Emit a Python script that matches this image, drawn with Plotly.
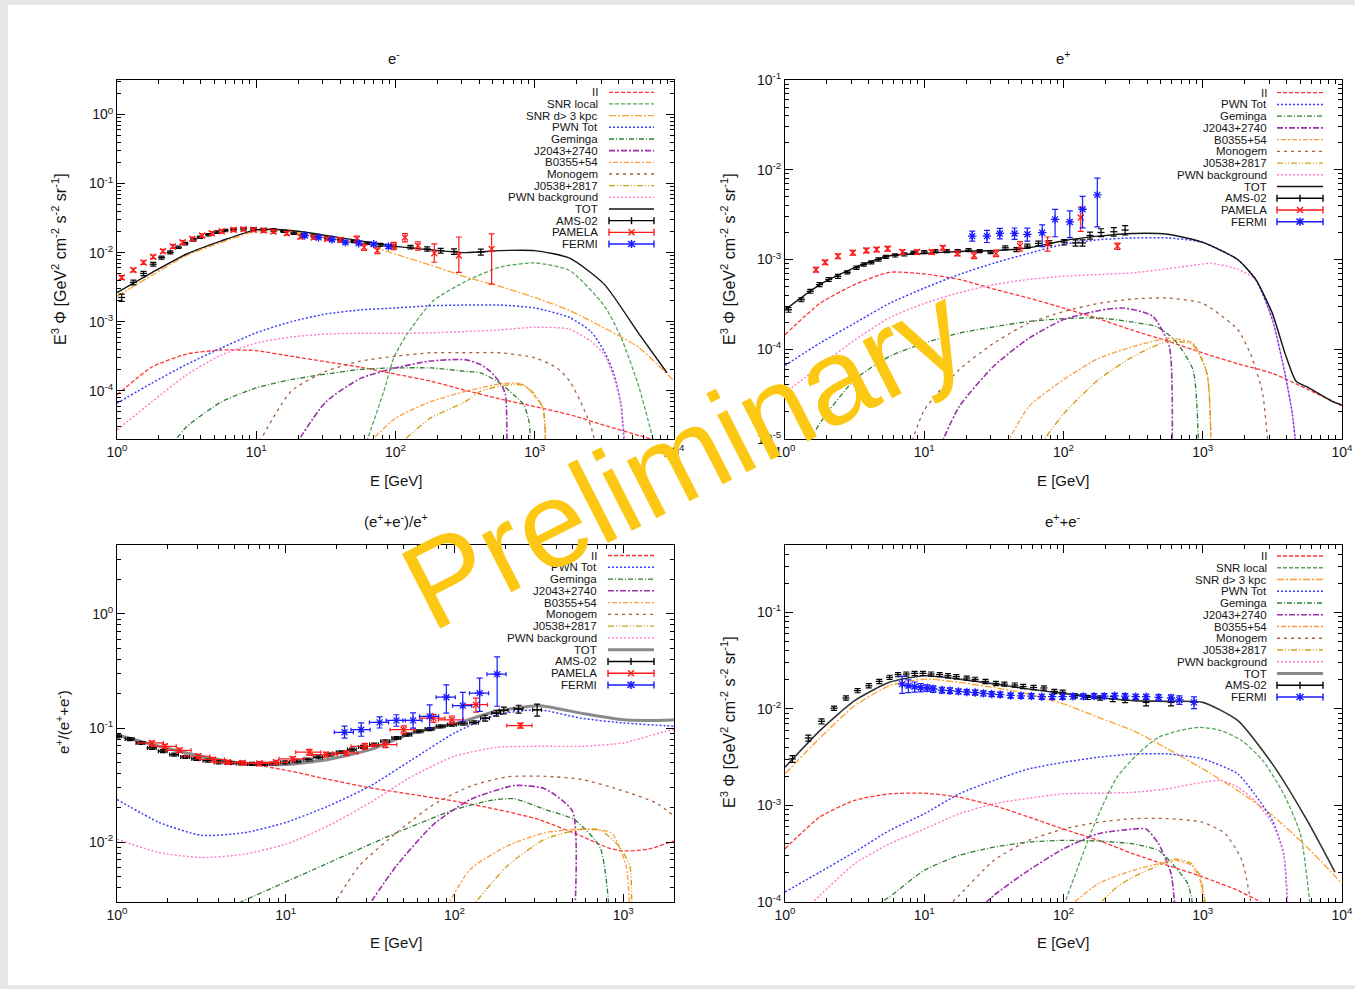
import plotly.graph_objects as go

W, H = 1355, 989
FONT = "Liberation Sans, Arial, sans-serif"

# ======================= DATA =======================
E_GRID = [1, 1.78, 3.16, 5.62, 10, 17.8, 31.6, 56.2, 100, 178, 316, 562, 1000, 1780, 3160, 5620, 10000]

# ---------- panel 1 : e- ----------
P1_II = [8.7e-5, 2.2e-4, 3.39e-4, 3.89e-4, 3.8e-4, 3.16e-4, 2.63e-4, 2.19e-4, 1.74e-4, 1.38e-4, 1.02e-4, 7.6e-5, 5.9e-5, 4.5e-5, 3.16e-5, 2.24e-5, 1.58e-5]
P1_SNRL_E = [60, 82.4, 97.3, 121, 186, 324, 569, 1000, 1780, 3160, 4170, 5620, 7400]
P1_SNRL = [1.5e-5, 9.8e-5, 3.0e-4, 6.6e-4, 2.0e-3, 3.9e-3, 6.2e-3, 7.1e-3, 5.5e-3, 1.7e-3, 5.9e-4, 1.1e-4, 1.4e-5]
P1_SNRD = [2.34e-3, 4.68e-3, 9.1e-3, 1.41e-2, 2.04e-2, 2.0e-2, 1.66e-2, 1.38e-2, 9.5e-3, 6.6e-3, 4.47e-3, 3.24e-3, 2.24e-3, 1.45e-3, 8.1e-4, 4.2e-4, 1.38e-4]
P1_TOT_E = [1, 1.78, 3.16, 5.62, 10, 17.8, 31.6, 56.2, 100, 178, 316, 562, 1000, 1780, 3160, 5620, 8900]
P1_TOT = [2.63e-3, 5.13e-3, 9.55e-3, 1.48e-2, 2.14e-2, 2.09e-2, 1.78e-2, 1.48e-2, 1.23e-2, 1.10e-2, 1.0e-2, 1.07e-2, 1.07e-2, 8.3e-3, 3.47e-3, 6.6e-4, 1.82e-4]
P1_PWN_E = [1, 1.78, 3.16, 5.62, 10, 17.8, 31.6, 56.2, 100, 178, 316, 562, 1000, 1780, 2530, 3160, 3720, 4160, 4400]
P1_PWN = [6.6e-5, 1.29e-4, 2.4e-4, 4.17e-4, 6.9e-4, 1.0e-3, 1.29e-3, 1.48e-3, 1.58e-3, 1.70e-3, 1.74e-3, 1.74e-3, 1.58e-3, 1.15e-3, 7.2e-4, 3.7e-4, 1.7e-4, 6.3e-5, 1.6e-5]
P1_PWNBG = [2.7e-5, 6.9e-5, 1.7e-4, 3.3e-4, 4.9e-4, 6.0e-4, 6.6e-4, 6.8e-4, 6.8e-4, 6.9e-4, 7.2e-4, 7.6e-4, 8.3e-4, 7.8e-4, 5.2e-4, 3.3e-4, 1.51e-4, 6.3e-5, 2.0e-5]
P1_GEM_E = [2.45, 3.16, 5.62, 10, 17.8, 31.6, 56.2, 100, 178, 316, 407, 562, 708, 832, 912, 933]
P1_GEM = [1.6e-5, 3.0e-5, 6.9e-5, 1.1e-4, 1.45e-4, 1.74e-4, 2.04e-4, 2.14e-4, 2.14e-4, 1.91e-4, 1.82e-4, 1.29e-4, 8.7e-5, 6.3e-5, 3.5e-5, 1.5e-5]
P1_J2043_E = [18.6, 31.6, 56.2, 100, 178, 316, 407, 479, 575, 617, 631]
P1_J2043 = [1.5e-5, 6.9e-5, 1.51e-4, 2.14e-4, 2.69e-4, 2.82e-4, 2.4e-4, 1.91e-4, 1.23e-4, 8.7e-5, 1.6e-5]
P1_MONO_E = [10, 17.8, 31.6, 56.2, 100, 178, 316, 562, 1000, 1445, 1780, 2138, 2512, 2754]
P1_MONO = [1.5e-5, 9.8e-5, 1.91e-4, 2.69e-4, 3.16e-4, 3.55e-4, 3.55e-4, 3.55e-4, 3.0e-4, 2.14e-4, 1.38e-4, 6.9e-5, 3.16e-5, 1.6e-5]
P1_B0355_E = [60, 100, 178, 316, 407, 562, 708, 832, 1000, 1148, 1189]
P1_B0355 = [1.5e-5, 4.0e-5, 6.9e-5, 9.8e-5, 1.10e-4, 1.26e-4, 1.29e-4, 1.23e-4, 8.3e-5, 5.6e-5, 1.6e-5]
P1_J0538_E = [100, 178, 316, 407, 562, 708, 832, 1000, 1148, 1202]
P1_J0538 = [1.5e-5, 4.0e-5, 6.9e-5, 9.8e-5, 1.17e-4, 1.23e-4, 1.20e-4, 8.9e-5, 5.4e-5, 1.6e-5]

P1_AMS_E = [1.08, 1.31, 1.55, 1.82, 2.09, 2.41, 2.76, 3.08, 3.54, 3.95, 4.54, 5.21, 5.98, 6.87, 8.11, 9.57, 11.3, 13.3, 15.7, 18.6, 21.9, 25.9, 32.3, 40.2, 50.1, 62.5, 78, 97, 128, 169, 211, 263, 410]
P1_AMS = [2.24e-3, 3.7e-3, 5.0e-3, 6.8e-3, 8.5e-3, 1.01e-2, 1.2e-2, 1.35e-2, 1.53e-2, 1.67e-2, 1.82e-2, 1.98e-2, 2.09e-2, 2.16e-2, 2.21e-2, 2.21e-2, 2.16e-2, 2.14e-2, 2.04e-2, 1.91e-2, 1.82e-2, 1.74e-2, 1.63e-2, 1.53e-2, 1.45e-2, 1.37e-2, 1.30e-2, 1.23e-2, 1.20e-2, 1.13e-2, 1.07e-2, 1.04e-2, 1.02e-2]
P1_AMS_ERR = [12, 8, 7, 6, 5, 5, 4, 4, 4, 4, 4, 4, 4, 4, 4, 4, 4, 4, 4, 4, 4, 4, 4, 4, 4, 4, 5, 5, 6, 7, 8, 9, 10]
P1_PAM_E = [1.08, 1.31, 1.55, 1.82, 2.14, 2.52, 2.96, 3.48, 4.09, 4.8, 5.65, 6.87, 8.11, 9.57, 11.3, 13.3, 16.6, 20.8, 25.9, 32.3, 40.2, 52.7, 59.5, 74, 97, 117, 145, 190, 285, 490]
P1_PAM = [4.37e-3, 5.6e-3, 7.2e-3, 8.7e-3, 1.05e-2, 1.23e-2, 1.41e-2, 1.58e-2, 1.77e-2, 1.91e-2, 2.04e-2, 2.14e-2, 2.19e-2, 2.14e-2, 2.09e-2, 2.02e-2, 1.91e-2, 1.70e-2, 1.66e-2, 1.58e-2, 1.53e-2, 1.58e-2, 1.2e-2, 1.07e-2, 1.26e-2, 1.66e-2, 1.26e-2, 9.8e-3, 9.1e-3, 1.13e-2]
P1_PAM_UP = [6, 6, 6, 6, 6, 6, 6, 6, 6, 6, 6, 6, 6, 6, 6, 6, 6, 6, 6, 6, 8, 10, 10, 10, 12, 14, 14, 37, 85, 65]
P1_PAM_DN = [6, 6, 6, 6, 6, 6, 6, 6, 6, 6, 6, 6, 6, 6, 6, 6, 6, 6, 6, 6, 8, 10, 10, 10, 12, 14, 14, 26, 43, 69]
P1_FER_E = [22.3, 28, 35, 43.7, 54.4, 69.7, 89]
P1_FER = [1.77e-2, 1.66e-2, 1.55e-2, 1.41e-2, 1.37e-2, 1.33e-2, 1.23e-2]
P1_FER_ERR = [5, 5, 5, 5, 5, 5, 6]

# ---------- panel 2 : e+ ----------
P2_II = [1.45e-4, 3.24e-4, 5.25e-4, 7.2e-4, 6.9e-4, 6.0e-4, 4.68e-4, 3.72e-4, 2.88e-4, 2.19e-4, 1.62e-4, 1.23e-4, 9.1e-5, 6.9e-5, 5.4e-5, 3.6e-5, 2.34e-5]
P2_TOT_E = [1, 1.78, 3.16, 5.62, 10, 17.8, 31.6, 56.2, 100, 178, 316, 562, 1000, 1780, 2400, 3162, 3890, 4680, 5620, 8510, 10000]
P2_TOT = [2.75e-4, 5.25e-4, 8.1e-4, 1.10e-3, 1.17e-3, 1.23e-3, 1.26e-3, 1.35e-3, 1.62e-3, 1.82e-3, 1.95e-3, 1.91e-3, 1.55e-3, 1.0e-3, 6.0e-4, 2.51e-4, 9.1e-5, 4.4e-5, 3.8e-5, 2.63e-5, 2.4e-5]
P2_PWN_E = [1, 1.78, 3.16, 5.62, 10, 17.8, 31.6, 56.2, 100, 178, 316, 562, 1000, 1780, 2400, 3162, 3890, 4400, 4680]
P2_PWN = [6.6e-5, 1.17e-4, 1.95e-4, 3.24e-4, 4.8e-4, 6.8e-4, 9.1e-4, 1.17e-3, 1.48e-3, 1.66e-3, 1.74e-3, 1.74e-3, 1.55e-3, 1.0e-3, 6.0e-4, 2.14e-4, 5.4e-5, 1.9e-5, 8e-6]
P2_PWNBG_E = [1, 1.78, 3.16, 5.62, 10, 17.8, 31.6, 56.2, 100, 178, 316, 562, 1000, 1148, 1780, 2400, 3162, 3890, 4400, 4680]
P2_PWNBG = [3.24e-5, 6.5e-5, 1.26e-4, 2.24e-4, 3.24e-4, 4.27e-4, 5.25e-4, 6.0e-4, 6.5e-4, 6.8e-4, 7.1e-4, 7.9e-4, 8.9e-4, 9.1e-4, 7.8e-4, 6.0e-4, 2.14e-4, 5.4e-5, 1.9e-5, 8e-6]
P2_GEM_E = [1.43, 1.78, 3.16, 5.62, 10, 17.8, 31.6, 56.2, 100, 178, 316, 468, 631, 851, 933]
P2_GEM = [8e-6, 1.5e-5, 4.57e-5, 8.3e-5, 1.17e-4, 1.51e-4, 1.78e-4, 2.04e-4, 2.19e-4, 2.24e-4, 2.0e-4, 1.78e-4, 1.26e-4, 5.9e-5, 8e-6]
P2_MONO_E = [7.9, 10, 17.8, 31.6, 56.2, 100, 178, 316, 562, 1000, 1780, 2240, 2690, 2950]
P2_MONO = [8e-6, 2.1e-5, 5.9e-5, 1.17e-4, 1.95e-4, 2.63e-4, 3.24e-4, 3.63e-4, 3.72e-4, 3.24e-4, 1.66e-4, 8.3e-5, 3.24e-5, 8e-6]
P2_J2043_E = [12.9, 17.8, 31.6, 56.2, 100, 178, 269, 437, 575, 603]
P2_J2043 = [8e-6, 2.29e-5, 6.5e-5, 1.32e-4, 2.14e-4, 2.69e-4, 2.88e-4, 2.34e-4, 1.07e-4, 8e-6]
P2_B0355_E = [38, 56.2, 100, 178, 316, 562, 851, 1072, 1148]
P2_B0355 = [8e-6, 2.29e-5, 4.57e-5, 7.9e-5, 1.07e-4, 1.32e-4, 1.17e-4, 5.4e-5, 8e-6]
P2_J0538_E = [66, 100, 178, 316, 562, 851, 1072, 1148]
P2_J0538 = [8e-6, 1.9e-5, 4.57e-5, 8.3e-5, 1.23e-4, 1.12e-4, 5.4e-5, 8e-6]

P2_AMS_E = [1.06, 1.31, 1.52, 1.77, 2.06, 2.40, 2.80, 3.26, 3.68, 4.16, 4.69, 5.3, 6.17, 7.19, 8.37, 10.0, 12.0, 14.5, 17.4, 20.8, 25, 30, 38.2, 45.9, 55, 66, 79, 101, 122, 137, 155, 186, 230, 277]
P2_AMS = [2.75e-4, 3.56e-4, 4.43e-4, 5.25e-4, 6.0e-4, 6.5e-4, 7.2e-4, 8.1e-4, 8.8e-4, 9.3e-4, 1.0e-3, 1.07e-3, 1.11e-3, 1.14e-3, 1.19e-3, 1.21e-3, 1.24e-3, 1.24e-3, 1.24e-3, 1.27e-3, 1.24e-3, 1.21e-3, 1.35e-3, 1.29e-3, 1.41e-3, 1.51e-3, 1.53e-3, 1.56e-3, 1.53e-3, 1.53e-3, 1.85e-3, 2.0e-3, 2.04e-3, 2.13e-3]
P2_AMS_ERR = [6, 5, 5, 5, 5, 5, 4, 4, 4, 4, 4, 4, 4, 4, 4, 4, 4, 4, 4, 4, 4, 4, 5, 5, 5, 6, 6, 7, 8, 8, 9, 10, 11, 12]
P2_PAM_E = [1.67, 1.94, 2.40, 3.07, 3.84, 4.55, 5.46, 6.97, 8.89, 11.3, 13.6, 17.3, 22.8, 32.8, 48.7, 76.9, 133, 244]
P2_PAM = [7.7e-4, 9.3e-4, 1.09e-3, 1.19e-3, 1.26e-3, 1.29e-3, 1.32e-3, 1.21e-3, 1.21e-3, 1.21e-3, 1.35e-3, 1.17e-3, 1.11e-3, 1.17e-3, 1.41e-3, 1.51e-3, 2.94e-3, 1.41e-3]
P2_PAM_ERR = [6, 6, 6, 6, 6, 6, 6, 6, 6, 6, 6, 6, 8, 8, 12, 18, 30, 8]
P2_FER_E = [22.1, 28.2, 34.9, 44.5, 55, 70.3, 87, 111, 137, 175]
P2_FER = [1.82e-3, 1.82e-3, 1.95e-3, 1.95e-3, 1.91e-3, 1.99e-3, 2.8e-3, 2.62e-3, 3.63e-3, 5.25e-3]
P2_FER_UP = [14, 16, 14, 15, 17, 22, 29, 33, 39, 54]
P2_FER_DN = [12, 15, 13, 14, 16, 30, 36, 33, 38, 56]

# ---------- panel 3 : positron fraction ----------
P3_GRID = [1, 1.78, 3.16, 5.62, 10, 17.8, 31.6, 56.2, 100, 178, 316, 562, 1000, 1778, 2000]
P3_II_E = [1, 1.78, 3.16, 5.62, 10, 17.8, 31.6, 56.2, 100, 178, 316, 562, 807, 1000, 1406, 2000]
P3_II = [0.0845, 0.0692, 0.0566, 0.0495, 0.0428, 0.0355, 0.030, 0.0262, 0.0229, 0.0194, 0.0158, 0.01135, 0.00898, 0.0084, 0.0087, 0.0103]
P3_TOT = [0.0875, 0.0692, 0.0566, 0.0489, 0.0479, 0.053, 0.0647, 0.0904, 0.109, 0.14, 0.1567, 0.135, 0.118, 0.1167, 0.118]
P3_PWN = [0.0237, 0.0149, 0.0115, 0.0121, 0.0149, 0.0207, 0.031, 0.053, 0.0904, 0.1306, 0.1445, 0.122, 0.1107, 0.1047, 0.1035]
P3_PWNBG = [0.0106, 0.00813, 0.00735, 0.00785, 0.0096, 0.01387, 0.0222, 0.0378, 0.0566, 0.0678, 0.0692, 0.0692, 0.074, 0.0935, 0.0966]
P3_GEM_E = [4.1, 16.4, 45.3, 101.6, 168, 228, 342, 513, 730, 828]
P3_GEM = [0.0025, 0.00622, 0.0121, 0.0194, 0.0234, 0.024, 0.0194, 0.0158, 0.00898, 0.0025]
P3_J2043_E = [29.4, 45.3, 75.2, 124.5, 228, 342, 500, 518]
P3_J2043 = [0.0025, 0.00622, 0.01435, 0.0237, 0.0314, 0.0294, 0.01875, 0.0025]
P3_MONO_E = [18.2, 27.3, 45.3, 75.2, 124.5, 206, 342, 566, 940, 1556, 2000]
P3_MONO = [0.0025, 0.00622, 0.0121, 0.0214, 0.031, 0.0374, 0.0378, 0.0355, 0.029, 0.0222, 0.017]
P3_B0355_E = [87, 124.5, 206, 342, 566, 849, 1040, 1094]
P3_B0355 = [0.0025, 0.00582, 0.00929, 0.0121, 0.013, 0.0121, 0.00622, 0.0025]
P3_J0538_E = [121, 206, 342, 566, 730, 940, 1094, 1122]
P3_J0538 = [0.0025, 0.00622, 0.0106, 0.013, 0.0128, 0.00929, 0.00622, 0.0025]

P3_AMS_E = [1.0, 1.19, 1.38, 1.61, 1.87, 2.18, 2.54, 2.95, 3.44, 4.0, 4.65, 5.41, 6.3, 7.33, 8.53, 9.93, 11.6, 13.5, 15.6, 18.2, 21.2, 24.7, 28.7, 33.4, 38.9, 45.3, 52.6, 61.3, 71.3, 83, 96.6, 112, 131, 152, 177, 196, 240, 309]
P3_AMS = [0.0846, 0.080, 0.074, 0.067, 0.0627, 0.0585, 0.0558, 0.0537, 0.0519, 0.0501, 0.0495, 0.0489, 0.0485, 0.0485, 0.0489, 0.0501, 0.0512, 0.053, 0.0555, 0.0585, 0.0614, 0.0647, 0.0683, 0.0716, 0.0766, 0.0818, 0.0875, 0.0935, 0.098, 0.1035, 0.107, 0.109, 0.112, 0.122, 0.135, 0.1426, 0.1465, 0.1445]
P3_AMS_ERR = [3, 3, 3, 3, 3, 3, 3, 3, 3, 3, 3, 3, 3, 3, 3, 3, 3, 3, 3, 3, 3, 3, 3, 3, 3, 3, 3, 3, 3, 3, 3, 3, 3, 6, 6, 7, 8, 12]
P3_PAM_E = [1.61, 1.92, 2.35, 3.03, 3.71, 4.54, 5.55, 6.97, 8.75, 11.0, 13.8, 17.3, 22.9, 29.4, 38.9, 50, 75, 96.6, 134, 246]
P3_PAM = [0.074, 0.0692, 0.0638, 0.0566, 0.053, 0.0501, 0.0495, 0.0489, 0.0501, 0.0537, 0.0614, 0.0585, 0.0605, 0.0692, 0.0716, 0.0967, 0.122, 0.118, 0.16, 0.105]
P3_PAM_ERR = [4, 4, 4, 4, 4, 4, 4, 4, 4, 4, 6, 5, 5, 6, 6, 8, 8, 8, 14, 5]
P3_FER_E = [22.3, 28, 36, 45.3, 56.8, 71.3, 89.5, 112, 141, 179]
P3_FER = [0.0917, 0.0967, 0.112, 0.1166, 0.1166, 0.1265, 0.186, 0.157, 0.2018, 0.296]
P3_FER_UP = [0.012, 0.014, 0.013, 0.014, 0.019, 0.033, 0.053, 0.048, 0.071, 0.124]
P3_FER_DN = [0.010, 0.012, 0.012, 0.013, 0.017, 0.027, 0.051, 0.043, 0.062, 0.141]

# ---------- panel 4 : e+ + e- ----------
P4_TOT_E = [1, 1.78, 3.16, 5.62, 10, 17.8, 31.6, 56.2, 100, 178, 316, 562, 1000, 1780, 3160, 5620, 8900]
P4_TOT = [2.49e-3, 5.97e-3, 1.22e-2, 1.89e-2, 2.21e-2, 2.04e-2, 1.82e-2, 1.61e-2, 1.45e-2, 1.32e-2, 1.22e-2, 1.20e-2, 1.17e-2, 7.6e-3, 2.7e-3, 7.0e-4, 2.04e-4]
P4_SNRD = [2.13e-3, 5.0e-3, 1.08e-2, 1.74e-2, 2.04e-2, 1.89e-2, 1.67e-2, 1.43e-2, 1.13e-2, 8.2e-3, 5.97e-3, 3.85e-3, 2.4e-3, 1.43e-3, 7.9e-4, 3.7e-4, 1.55e-4]
P4_SNRL_E = [97, 171, 242, 341, 482, 679, 959, 1355, 1910, 2700, 3810, 5020, 5960]
P4_SNRL = [8e-5, 7.0e-4, 1.96e-3, 3.42e-3, 5.1e-3, 5.97e-3, 6.46e-3, 5.97e-3, 4.7e-3, 2.92e-3, 1.32e-3, 5.1e-4, 8e-5]
P4_PWN_E = [1, 1.78, 3.16, 5.62, 10, 17.8, 31.6, 56.2, 100, 178, 316, 562, 1000, 1780, 2350, 3162, 3810, 4080]
P4_PWN = [1.27e-4, 2.04e-4, 3.29e-4, 5.5e-4, 8.2e-4, 1.32e-3, 1.82e-3, 2.39e-3, 2.8e-3, 3.16e-3, 3.42e-3, 3.42e-3, 3.04e-3, 2.13e-3, 1.32e-3, 7.0e-4, 3.16e-4, 8e-5]
P4_PWNBG_E = [1.33, 1.78, 3.16, 5.62, 10, 17.8, 31.6, 56.2, 100, 178, 316, 562, 1000, 1356, 1780, 2350, 3162, 3810, 4080]
P4_PWNBG = [8e-5, 1.17e-4, 2.49e-4, 4.0e-4, 5.7e-4, 8.2e-4, 1.04e-3, 1.19e-3, 1.32e-3, 1.34e-3, 1.37e-3, 1.49e-3, 1.74e-3, 1.82e-3, 1.55e-3, 1.13e-3, 6.5e-4, 3.16e-4, 8e-5]
P4_II_E = [1, 1.78, 3.16, 5.62, 10, 17.8, 31.6, 56.2, 100, 178, 316, 562, 1000, 1780, 2606, 3162]
P4_II = [3.56e-4, 7.6e-4, 1.13e-3, 1.32e-3, 1.34e-3, 1.22e-3, 1.0e-3, 7.6e-4, 5.7e-4, 4.35e-4, 3.16e-4, 2.39e-4, 1.82e-4, 1.32e-4, 1.0e-4, 8.3e-5]
P4_GEM_E = [3.9, 5.62, 10, 17.8, 31.6, 56.2, 100, 178, 316, 482, 634, 780, 865]
P4_GEM = [8e-5, 1.13e-4, 2.13e-4, 3.04e-4, 3.7e-4, 4.18e-4, 4.35e-4, 4.28e-4, 4.0e-4, 3.42e-4, 2.3e-4, 1.55e-4, 8e-5]
P4_J2043_E = [24, 31.6, 56.2, 100, 178, 316, 392, 482, 592, 634]
P4_J2043 = [8e-5, 1.17e-4, 2.13e-4, 3.56e-4, 5.1e-4, 5.7e-4, 5.7e-4, 4.0e-4, 1.96e-4, 8e-5]
P4_MONO_E = [13.6, 17.8, 31.6, 56.2, 100, 178, 316, 562, 1000, 1452, 1910, 2270]
P4_MONO = [8e-5, 1.17e-4, 2.7e-4, 4.35e-4, 5.7e-4, 6.7e-4, 7.3e-4, 7.3e-4, 6.7e-4, 5.1e-4, 2.7e-4, 8e-5]
P4_B0355_E = [100, 178, 316, 482, 634, 836, 959, 1028]
P4_B0355 = [8e-5, 1.55e-4, 2.13e-4, 2.49e-4, 2.7e-4, 2.39e-4, 1.67e-4, 8e-5]
P4_J0538_E = [160, 242, 316, 482, 634, 836, 959, 1064]
P4_J0538 = [8e-5, 1.43e-4, 1.82e-4, 2.39e-4, 2.8e-4, 2.49e-4, 1.82e-4, 8e-5]

P4_AMS_E = [1.13, 1.47, 1.83, 2.25, 2.74, 3.32, 4.0, 4.75, 5.64, 6.48, 7.43, 8.53, 9.79, 11.2, 12.9, 14.8, 17.0, 20.2, 23.2, 27.5, 32.7, 37.6, 44.7, 51.3, 60.9, 72.3, 85.9, 98.6, 121, 149, 183, 226, 277, 392, 592]
P4_AMS = [3.04e-3, 5.0e-3, 7.45e-3, 1.02e-2, 1.30e-2, 1.55e-2, 1.74e-2, 1.93e-2, 2.13e-2, 2.27e-2, 2.30e-2, 2.34e-2, 2.34e-2, 2.30e-2, 2.27e-2, 2.21e-2, 2.16e-2, 2.09e-2, 2.03e-2, 1.93e-2, 1.84e-2, 1.81e-2, 1.77e-2, 1.71e-2, 1.67e-2, 1.65e-2, 1.52e-2, 1.49e-2, 1.37e-2, 1.32e-2, 1.30e-2, 1.27e-2, 1.24e-2, 1.17e-2, 1.17e-2]
P4_AMS_ERR = [8, 7, 6, 5, 5, 5, 5, 5, 5, 5, 5, 5, 5, 5, 5, 5, 5, 5, 5, 5, 5, 5, 5, 5, 5, 5, 5, 5, 5, 5, 5, 6, 6, 8, 8]
P4_FER_E = [6.94, 7.69, 8.53, 9.46, 10.5, 11.6, 13.4, 15.3, 17.6, 20.2, 23.2, 26.6, 30.5, 35.1, 41.7, 49.5, 58.8, 69.8, 83, 98.6, 117, 139, 166, 196, 233, 277, 330, 392, 482, 592, 680, 865]
P4_FER = [1.81e-2, 1.74e-2, 1.70e-2, 1.67e-2, 1.65e-2, 1.61e-2, 1.57e-2, 1.55e-2, 1.52e-2, 1.50e-2, 1.48e-2, 1.45e-2, 1.43e-2, 1.41e-2, 1.38e-2, 1.37e-2, 1.36e-2, 1.34e-2, 1.34e-2, 1.34e-2, 1.35e-2, 1.35e-2, 1.36e-2, 1.36e-2, 1.37e-2, 1.36e-2, 1.34e-2, 1.34e-2, 1.32e-2, 1.30e-2, 1.24e-2, 1.17e-2]
P4_FER_ERR = [20, 15, 12, 10, 8, 8, 7, 7, 6, 6, 6, 6, 6, 6, 6, 6, 6, 6, 6, 6, 6, 6, 6, 6, 6, 6, 6, 6, 7, 8, 10, 14]

# Tick labels
DEC_TEXT = {1e-5: "10<sup>-5</sup>", 1e-4: "10<sup>-4</sup>", 1e-3: "10<sup>-3</sup>", 1e-2: "10<sup>-2</sup>",
            1e-1: "10<sup>-1</sup>", 1: "10<sup>0</sup>", 10: "10<sup>1</sup>", 100: "10<sup>2</sup>",
            1000: "10<sup>3</sup>", 10000: "10<sup>4</sup>"}

# ======================= STYLE =======================
STY = {
    "II": ("#ff3434", "4px,2px", 1.3),
    "SNR local": ("#58a458", "4px,2px", 1.3),
    "SNR d> 3 kpc": ("#ffa030", "7px,2px,2px,2px", 1.3),
    "PWN Tot": ("#3d3dff", "2px,2px", 1.5),
    "Geminga": ("#2e7d32", "5px,2px,1px,2px", 1.3),
    "J2043+2740": ("#9b30aa", "6px,2px,2px,2px", 1.6),
    "B0355+54": ("#ff9a40", "2px,2px,5px,2px", 1.3),
    "Monogem": ("#a8603c", "3px,4px", 1.3),
    "J0538+2817": ("#d4a017", "6px,2px,1px,2px,1px,2px", 1.4),
    "PWN background": ("#ff78c8", "2px,2px", 1.4),
    "TOT": ("#151515", "solid", 1.4),
}
DATA_COL = {"AMS-02": "#000000", "PAMELA": "#ff1a1a", "FERMI": "#1a1aff"}

PANELS = {
    1: dict(x=(117, 674), y=(80, 439), xr=[0, 4], yr=[-4.699, 0.5], ydec=[1e-4, 1e-3, 1e-2, 1e-1, 1]),
    2: dict(x=(785, 1342), y=(80, 439), xr=[0, 4], yr=[-5, -1], ydec=[1e-5, 1e-4, 1e-3, 1e-2, 1e-1]),
    3: dict(x=(117, 674), y=(545, 902), xr=[0, 3.301], yr=[-2.523, 0.602], ydec=[1e-2, 1e-1, 1]),
    4: dict(x=(785, 1342), y=(545, 902), xr=[0, 4], yr=[-4, -0.301], ydec=[1e-4, 1e-3, 1e-2, 1e-1]),
}

fig = go.Figure()
shapes, annos = [], []


def PX(x):
    return x / W


def PY(y):
    return 1 - y / H


def ax_ids(p):
    return ("x" if p == 1 else f"x{p}"), ("y" if p == 1 else f"y{p}")


def curve(p, name, E, V, color=None, width=None, dash=None):
    c, d, w = STY[name]
    xa, ya = ax_ids(p)
    fig.add_trace(go.Scatter(x=E, y=V, mode="lines", xaxis=xa, yaxis=ya, showlegend=False, hoverinfo="skip",
                             line=dict(color=color or c, dash=dash or d, width=width or w,
                                       shape="spline", smoothing=0.6)))


def data(p, name, E, V, up, dn, xerr=None):
    col = DATA_COL[name]
    xa, ya = ax_ids(p)
    sym = {"AMS-02": "line-ew-open", "PAMELA": "x-thin-open", "FERMI": "asterisk-open"}[name]
    size = {"AMS-02": 5, "PAMELA": 6, "FERMI": 7}[name]
    tr = go.Scatter(x=E, y=V, mode="markers", xaxis=xa, yaxis=ya, showlegend=False, hoverinfo="skip",
                    marker=dict(symbol=sym, size=size, color=col, line=dict(color=col, width=1.3)),
                    error_y=dict(type="data", symmetric=False, array=up, arrayminus=dn,
                                 color=col, thickness=1.2, width=3))
    if xerr is not None:
        tr.error_x = dict(type="percent", value=xerr, color=col, thickness=1.2, width=2)
    fig.add_trace(tr)


def rel(vals, pct):
    return [v * q / 100.0 for v, q in zip(vals, pct)]


# ---------------- panel 1 ----------------
curve(1, "II", E_GRID, P1_II)
curve(1, "SNR local", P1_SNRL_E, P1_SNRL)
curve(1, "SNR d> 3 kpc", E_GRID, P1_SNRD)
curve(1, "PWN Tot", P1_PWN_E, P1_PWN)
curve(1, "Geminga", P1_GEM_E, P1_GEM)
curve(1, "J2043+2740", P1_J2043_E, P1_J2043)
curve(1, "B0355+54", P1_B0355_E, P1_B0355)
curve(1, "Monogem", P1_MONO_E, P1_MONO)
curve(1, "J0538+2817", P1_J0538_E, P1_J0538)
curve(1, "PWN background", P1_PWN_E, P1_PWNBG)
curve(1, "TOT", P1_TOT_E, P1_TOT)
data(1, "AMS-02", P1_AMS_E, P1_AMS, rel(P1_AMS, P1_AMS_ERR), rel(P1_AMS, P1_AMS_ERR))
data(1, "PAMELA", P1_PAM_E, P1_PAM, rel(P1_PAM, P1_PAM_UP), rel(P1_PAM, P1_PAM_DN))
data(1, "FERMI", P1_FER_E, P1_FER, rel(P1_FER, P1_FER_ERR), rel(P1_FER, P1_FER_ERR))

# ---------------- panel 2 ----------------
curve(2, "II", E_GRID, P2_II)
curve(2, "PWN Tot", P2_PWN_E, P2_PWN)
curve(2, "Geminga", P2_GEM_E, P2_GEM)
curve(2, "J2043+2740", P2_J2043_E, P2_J2043)
curve(2, "B0355+54", P2_B0355_E, P2_B0355)
curve(2, "Monogem", P2_MONO_E, P2_MONO)
curve(2, "J0538+2817", P2_J0538_E, P2_J0538)
curve(2, "PWN background", P2_PWNBG_E, P2_PWNBG)
curve(2, "TOT", P2_TOT_E, P2_TOT)
data(2, "AMS-02", P2_AMS_E, P2_AMS, rel(P2_AMS, P2_AMS_ERR), rel(P2_AMS, P2_AMS_ERR))
data(2, "PAMELA", P2_PAM_E, P2_PAM, rel(P2_PAM, P2_PAM_ERR), rel(P2_PAM, P2_PAM_ERR))
data(2, "FERMI", P2_FER_E, P2_FER, rel(P2_FER, P2_FER_UP), rel(P2_FER, P2_FER_DN))

# ---------------- panel 3 ----------------
curve(3, "II", P3_II_E, P3_II)
curve(3, "PWN Tot", P3_GRID, P3_PWN)
curve(3, "Geminga", P3_GEM_E, P3_GEM)
curve(3, "J2043+2740", P3_J2043_E, P3_J2043)
curve(3, "B0355+54", P3_B0355_E, P3_B0355)
curve(3, "Monogem", P3_MONO_E, P3_MONO)
curve(3, "J0538+2817", P3_J0538_E, P3_J0538)
curve(3, "PWN background", P3_GRID, P3_PWNBG)
curve(3, "TOT", P3_GRID, P3_TOT, color="#8a8a8a", width=3)
data(3, "AMS-02", P3_AMS_E, P3_AMS, rel(P3_AMS, P3_AMS_ERR), rel(P3_AMS, P3_AMS_ERR), xerr=6)
data(3, "PAMELA", P3_PAM_E, P3_PAM, rel(P3_PAM, P3_PAM_ERR), rel(P3_PAM, P3_PAM_ERR), xerr=17)
data(3, "FERMI", P3_FER_E, P3_FER, P3_FER_UP, P3_FER_DN, xerr=13)

# ---------------- panel 4 ----------------
curve(4, "II", P4_II_E, P4_II)
curve(4, "SNR local", P4_SNRL_E, P4_SNRL)
curve(4, "SNR d> 3 kpc", E_GRID, P4_SNRD)
curve(4, "PWN Tot", P4_PWN_E, P4_PWN)
curve(4, "Geminga", P4_GEM_E, P4_GEM)
curve(4, "J2043+2740", P4_J2043_E, P4_J2043)
curve(4, "B0355+54", P4_B0355_E, P4_B0355)
curve(4, "Monogem", P4_MONO_E, P4_MONO)
curve(4, "J0538+2817", P4_J0538_E, P4_J0538)
curve(4, "PWN background", P4_PWNBG_E, P4_PWNBG)
curve(4, "TOT", P4_TOT_E, P4_TOT, color="#333333", width=1.6)
data(4, "AMS-02", P4_AMS_E, P4_AMS, rel(P4_AMS, P4_AMS_ERR), rel(P4_AMS, P4_AMS_ERR))
data(4, "FERMI", P4_FER_E, P4_FER, rel(P4_FER, P4_FER_ERR), rel(P4_FER, P4_FER_ERR))

# ======================= AXES =======================
def minor_vals(maxdec, top):
    out = []
    for d in range(-6, maxdec + 1):
        for m in range(2, 10):
            v = m * 10.0 ** d
            if v <= top:
                out.append(v)
    return out


layout_axes = {}
for p, cfg in PANELS.items():
    xa, ya = ax_ids(p)
    xkey = "xaxis" if p == 1 else f"xaxis{p}"
    ykey = "yaxis" if p == 1 else f"yaxis{p}"
    xt = [1, 10, 100, 1000] + ([10000] if cfg["xr"][1] >= 4 else [])
    common = dict(type="log", showline=True, linecolor="black", linewidth=1, mirror="ticks",
                  ticks="inside", ticklen=8, tickwidth=1, tickcolor="black", showgrid=False,
                  zeroline=False, tickmode="array", automargin=False,
                  tickfont=dict(family=FONT, size=14, color="#151515"))
    layout_axes[xkey] = dict(common, range=cfg["xr"], anchor=ya,
                             domain=[PX(cfg["x"][0]), PX(cfg["x"][1])],
                             tickvals=xt, ticktext=[DEC_TEXT[v] for v in xt],
                             minor=dict(tickmode="array", tickvals=minor_vals(4, 10 ** cfg["xr"][1]),
                                        ticks="inside", ticklen=4, tickwidth=1, tickcolor="black",
                                        showgrid=False))
    layout_axes[ykey] = dict(common, range=cfg["yr"], anchor=xa,
                             domain=[PY(cfg["y"][1]), PY(cfg["y"][0])],
                             tickvals=cfg["ydec"], ticktext=[DEC_TEXT[v] for v in cfg["ydec"]],
                             minor=dict(tickmode="array", tickvals=minor_vals(1, 10 ** cfg["yr"][1]),
                                        ticks="inside", ticklen=4, tickwidth=1, tickcolor="black",
                                        showgrid=False))

# ======================= LEGENDS (gnuplot style) =======================
def seg(x0, y0, x1, y1, color, width=1.2, dash="solid"):
    shapes.append(dict(type="line", xref="paper", yref="paper", x0=PX(x0), y0=PY(y0), x1=PX(x1), y1=PY(y1),
                       line=dict(color=color, width=width, dash=dash)))


def legend(names, xt, x0, x1, y0, dy, tot_style=None):
    for i, n in enumerate(names):
        y = y0 + i * dy
        annos.append(dict(text=n, x=PX(xt), y=PY(y), xref="paper", yref="paper", xanchor="right",
                          yanchor="middle", showarrow=False, borderpad=0,
                          font=dict(family=FONT, size=11.5, color="#151515")))
        if n in STY:
            c, d, w = STY[n]
            if n == "TOT" and tot_style:
                c, w = tot_style
            seg(x0, y, x1, y, c, w, d)
        else:
            c = DATA_COL[n]
            seg(x0, y, x1, y, c, 1.4)
            seg(x0, y - 3.5, x0, y + 3.5, c, 1.4)
            seg(x1, y - 3.5, x1, y + 3.5, c, 1.4)
            xm = (x0 + x1) / 2
            if n == "AMS-02":
                seg(xm, y - 3.5, xm, y + 3.5, c, 1.4)
            elif n == "PAMELA":
                seg(xm - 3, y - 3, xm + 3, y + 3, c, 1.4)
                seg(xm - 3, y + 3, xm + 3, y - 3, c, 1.4)
            else:
                seg(xm, y - 4, xm, y + 4, c, 1.6)
                seg(xm - 3.5, y - 3, xm + 3.5, y + 3, c, 1.6)
                seg(xm - 3.5, y + 3, xm + 3.5, y - 3, c, 1.6)


L1 = ["II", "SNR local", "SNR d> 3 kpc", "PWN Tot", "Geminga", "J2043+2740", "B0355+54", "Monogem",
      "J0538+2817", "PWN background", "TOT", "AMS-02", "PAMELA", "FERMI"]
L2 = ["II", "PWN Tot", "Geminga", "J2043+2740", "B0355+54", "Monogem", "J0538+2817", "PWN background",
      "TOT", "AMS-02", "PAMELA", "FERMI"]
L4 = ["II", "SNR local", "SNR d> 3 kpc", "PWN Tot", "Geminga", "J2043+2740", "B0355+54", "Monogem",
      "J0538+2817", "PWN background", "TOT", "AMS-02", "FERMI"]
legend(L1, 599, 609, 654, 92.3, 11.67)
legend(L2, 1268, 1277, 1323, 92.7, 11.73)
legend(L2, 598, 608, 654, 555.5, 11.77, tot_style=("#8a8a8a", 3))
legend(L4, 1268, 1277, 1323, 556, 11.75, tot_style=("#8a8a8a", 3))

# ======================= TEXT =======================
def text(t, x, y, size=13, angle=0):
    annos.append(dict(text=t, x=PX(x), y=PY(y), xref="paper", yref="paper", showarrow=False,
                      xanchor="center", yanchor="middle", textangle=angle,
                      font=dict(family=FONT, size=size, color="#151515")))


text("e<sup>-</sup>", 394, 58, size=15)
text("e<sup>+</sup>", 1063, 58, size=15)
text("(e<sup>+</sup>+e<sup>-</sup>)/e<sup>+</sup>", 396, 520, size=15)
text("e<sup>+</sup>+e<sup>-</sup>", 1063, 520, size=15)
for xc, yc in [(396, 480), (1063, 480), (396, 942), (1063, 942)]:
    text("E [GeV]", xc, yc, size=15)
YLAB = "E<sup>3</sup> Φ [GeV<sup>2</sup> cm<sup>-2</sup> s<sup>-2</sup> sr<sup>-1</sup>]"
text(YLAB, 59, 259, size=16, angle=-90)
text(YLAB, 728, 259, size=16, angle=-90)
text(YLAB, 728, 722, size=16, angle=-90)
text("e<sup>+</sup>/(e<sup>+</sup>+e<sup>-</sup>)", 62, 722, size=15, angle=-90)

# watermark
annos.append(dict(text="Preliminary", x=PX(684), y=PY(457), xref="paper", yref="paper", showarrow=False,
                  xanchor="center", yanchor="middle", textangle=-27,
                  font=dict(family=FONT, size=122, color="#FCC814")))

# page (white slide over grey border)
shapes.insert(0, dict(type="rect", xref="paper", yref="paper", x0=PX(8), y0=PY(985), x1=1, y1=PY(5),
                      fillcolor="white", line=dict(width=0), layer="below"))

fig.update_layout(width=W, height=H, margin=dict(l=0, r=0, t=0, b=0, pad=0, autoexpand=False), autosize=False,
                  paper_bgcolor="#e6e6e6", plot_bgcolor="rgba(0,0,0,0)", showlegend=False,
                  shapes=shapes, annotations=annos, **layout_axes)

fig.write_html("out.html")
